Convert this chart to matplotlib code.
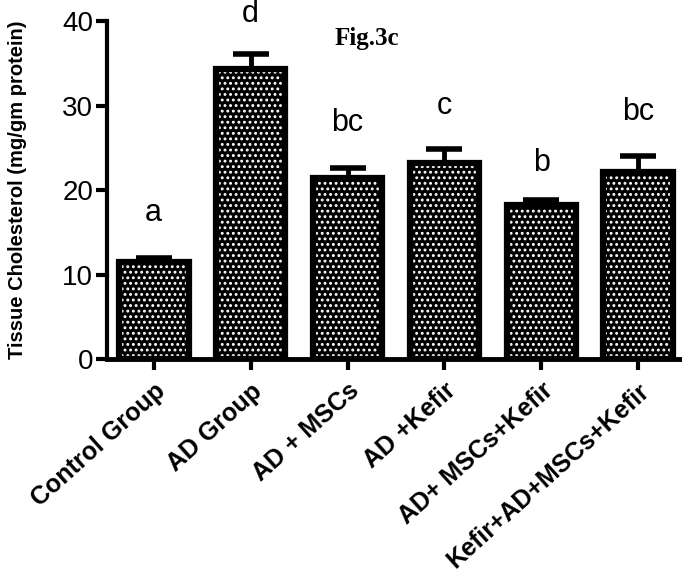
import matplotlib.pyplot as plt

# groups and values
groups = ['Control Group', 'AD Group', 'AD + MSCs', 'AD +Kefir',
          'AD+ MSCs+Kefir', 'Kefir+AD+MSCs+Kefir']
means = [11.5, 34.4, 21.4, 23.2, 18.3, 22.2]
sems = [0.5, 1.7, 1.2, 1.7, 0.6, 1.8]
letters = ['a', 'd', 'bc', 'c', 'b', 'bc']
letter_y = [17.3, 40.8, 27.9, 30.0, 23.2, 29.2]

plt.rcParams['font.family'] = ['Liberation Sans', 'DejaVu Sans']
plt.rcParams['hatch.linewidth'] = 1.3

fig = plt.figure(figsize=(6.82, 5.88), dpi=100)
ax = fig.add_axes([0.157, 0.389, 0.843, 0.575])

x = list(range(len(groups)))

# black bars, white dotted pattern on top, then black outline again
ax.bar(x, means, width=0.72, color='black', edgecolor='black', linewidth=0, zorder=2)
ax.bar(x, means, width=0.72, facecolor='none', edgecolor='white', hatch='...',
       linewidth=0, zorder=3)
ax.bar(x, means, width=0.72, facecolor='none', edgecolor='black', linewidth=4.5, zorder=4)

ax.errorbar(x, means, yerr=[[0] * len(sems), sems], fmt='none', ecolor='black',
            elinewidth=3.5, capsize=13, capthick=4, zorder=5)

for i, (lt, ly) in enumerate(zip(letters, letter_y)):
    ax.text(i, ly, lt, ha='center', va='center', fontsize=22, clip_on=False)

ax.text(2.2, 38, 'Fig.3c', ha='center', va='center', fontsize=18,
        fontweight='bold', family='Liberation Serif')

ax.set_xlim(-0.48, 5.45)
ax.set_ylim(0, 40)
ax.set_yticks([0, 10, 20, 30, 40])
ax.set_xticks(x)
ax.set_xticklabels(groups, rotation=42, ha='right', rotation_mode='anchor',
                   fontsize=18, fontweight='bold')
ax.tick_params(axis='y', labelsize=20, width=3, length=8, pad=2)
ax.tick_params(axis='x', width=3, length=8, pad=6)

for s in ['top', 'right']:
    ax.spines[s].set_visible(False)
ax.spines['left'].set_linewidth(3)
ax.spines['bottom'].set_linewidth(3.5)

ax.set_ylabel('Tissue Cholesterol (mg/gm protein)', fontsize=14.5, fontweight='bold')
ax.yaxis.set_label_coords(-0.139, 0.5)

fig.savefig('out.png', dpi=100)
